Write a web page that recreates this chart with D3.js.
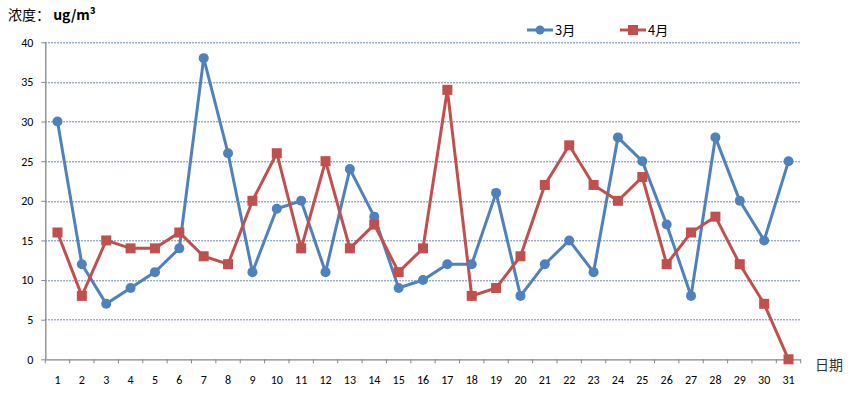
<!DOCTYPE html>
<html>
<head>
<meta charset="utf-8">
<script src="https://cdn.jsdelivr.net/npm/d3@7"></script>
<style>
  body { margin: 0; background: #fff; }
  text { font-family: Calibri, Carlito, "Liberation Sans", "Noto Sans", sans-serif; }
</style>
</head>
<body>
<div id="chart"></div>
<script>
// Data
var days = d3.range(1, 32).map(String);
var march = [30, 12, 7, 9, 11, 14, 38, 26, 11, 19, 20, 11, 24, 18, 9, 10, 12, 12, 21, 8, 12, 15, 11, 28, 25, 17, 8, 28, 20, 15, 25];
var april = [16, 8, 15, 14, 14, 16, 13, 12, 20, 26, 14, 25, 14, 17, 11, 14, 34, 8, 9, 13, 22, 27, 22, 20, 23, 12, 16, 18, 12, 7, 0];
var yTicks = [0, 5, 10, 15, 20, 25, 30, 35, 40];
var seriesNames = ["3月", "4月"];

var svgWidth = 855;
var svgHeight = 394;
var margin = { top: 42.3, right: 54.3, bottom: 34.7, left: 45.3 };
var chartWidth = svgWidth - margin.left - margin.right;
var chartHeight = svgHeight - margin.top - margin.bottom;

var blue = "#4F81BD";
var red = "#C0504D";

var svg = d3.select("#chart").append("svg")
            .attr("width", svgWidth)
            .attr("height", svgHeight);

var chartGroup = svg.append("g")
                    .attr("transform", `translate(${margin.left}, ${margin.top})`);

// Scales
var xScale = d3.scaleBand().domain(days).range([0, chartWidth]);
var yScale = d3.scaleLinear().domain([0, 40]).range([chartHeight, 0]);

// Gridlines
chartGroup.append("g")
          .selectAll("line")
          .data(yTicks.filter(d => d > 0))
          .enter()
          .append("line")
          .attr("x1", 0)
          .attr("x2", chartWidth)
          .attr("y1", d => Math.round(yScale(d)) + 0.5)
          .attr("y2", d => Math.round(yScale(d)) + 0.5)
          .attr("stroke", "#3F6294")
          .attr("stroke-width", 1)
          .attr("stroke-dasharray", "1.5,1.5");

// Y axis
var yAxis = chartGroup.append("g")
                      .call(d3.axisLeft(yScale).tickValues(yTicks).tickSize(4).tickPadding(8));
// X axis
var xAxis = chartGroup.append("g")
                      .attr("transform", `translate(0, ${chartHeight})`)
                      .call(d3.axisBottom(xScale).tickSize(0).tickPadding(16));

// x tick marks sit between categories
var xTickPos = d3.range(0, days.length + 1).map(i => i * xScale.bandwidth());
xAxis.selectAll(".between")
     .data(xTickPos)
     .enter()
     .append("line")
     .attr("x1", d => d)
     .attr("x2", d => d)
     .attr("y1", 0)
     .attr("y2", 4)
     .attr("stroke", "#868686");

[yAxis, xAxis].forEach(function(ax) {
  ax.select(".domain").attr("stroke", "#868686").attr("stroke-width", 1.3);
  ax.selectAll(".tick line").attr("stroke", "#868686");
  ax.selectAll("text").attr("font-size", "12px").attr("fill", "#000");
});
xAxis.select(".domain").attr("d", `M0,0.5H${chartWidth}`);
yAxis.select(".domain").attr("d", `M0.5,0V${chartHeight}`);

// Lines
var line = d3.line()
             .x((d, i) => xScale(days[i]) + xScale.bandwidth() / 2)
             .y(d => yScale(d));

chartGroup.append("path")
          .datum(march)
          .attr("fill", "none")
          .attr("stroke", blue)
          .attr("stroke-width", 3)
          .attr("d", line);

chartGroup.append("path")
          .datum(april)
          .attr("fill", "none")
          .attr("stroke", red)
          .attr("stroke-width", 3)
          .attr("d", line);

// Markers
chartGroup.selectAll(".marchDot")
          .data(march)
          .enter()
          .append("circle")
          .attr("cx", (d, i) => xScale(days[i]) + xScale.bandwidth() / 2)
          .attr("cy", d => yScale(d))
          .attr("r", 5)
          .attr("fill", blue);

chartGroup.selectAll(".aprilDot")
          .data(april)
          .enter()
          .append("rect")
          .attr("x", (d, i) => xScale(days[i]) + xScale.bandwidth() / 2 - 5)
          .attr("y", d => yScale(d) - 5)
          .attr("width", 10)
          .attr("height", 10)
          .attr("fill", red);

// Legend
var legendData = [
  { name: seriesNames[0], color: blue, x: 527 },
  { name: seriesNames[1], color: red, x: 620 }
];
var legend = svg.append("g");
legendData.forEach(function(item, i) {
  var g = legend.append("g").attr("transform", `translate(${item.x}, 30)`);
  g.append("line").attr("x1", 0).attr("x2", 26).attr("y1", 0).attr("y2", 0)
   .attr("stroke", item.color).attr("stroke-width", 3);
  if (i === 0) {
    g.append("circle").attr("cx", 13).attr("cy", 0).attr("r", 4.5).attr("fill", item.color);
  } else {
    g.append("rect").attr("x", 8).attr("y", -5).attr("width", 10).attr("height", 10).attr("fill", item.color);
  }
  g.append("text").attr("x", 28).attr("y", 5).attr("font-size", "13px")
   .style("font-family", "'Noto Sans CJK SC', sans-serif").text(item.name);
});

// Titles
var title = svg.append("text")
   .attr("x", 8)
   .attr("y", 20)
   .attr("font-size", "14px")
   .style("font-family", "'Noto Sans CJK SC', sans-serif");
title.append("tspan").text("浓度： ");
title.append("tspan").attr("font-weight", "bold").text("ug/m³");

svg.append("text")
   .attr("x", 815)
   .attr("y", 370)
   .attr("font-size", "14px")
   .attr("fill", "#333")
   .style("font-family", "'Noto Sans CJK SC', sans-serif")
   .text("日期");
</script>
</body>
</html>
